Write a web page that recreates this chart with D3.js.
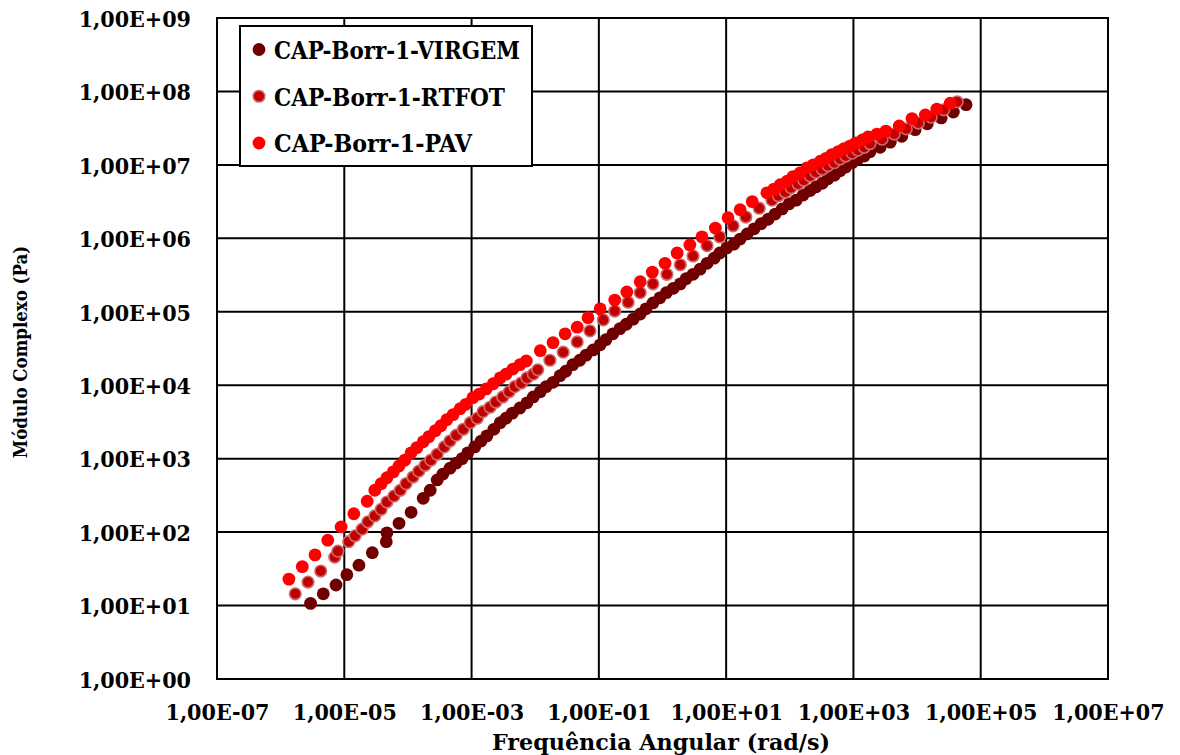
<!DOCTYPE html>
<html>
<head>
<meta charset="utf-8">
<script src="https://cdn.jsdelivr.net/npm/d3@7"></script>
<style>
  html, body { margin: 0; padding: 0; background: #ffffff; }
  svg { display: block; }
  .lbl { font-family: "DejaVu Serif Condensed", "DejaVu Serif", serif; font-weight: bold; fill: #000; }
</style>
</head>
<body>
<svg id="chart" width="1180" height="755"></svg>
<script>
// Master curves of complex modulus |G*| versus angular frequency.
// Each pair is [log10 ω (rad/s), log10 |G*| (Pa)].
const virgem = [
  [-5.53,1.03],[-5.33,1.16],[-5.13,1.28],[-4.96,1.42],[-4.77,1.55],[-4.56,1.72],
  [-4.34,1.87],[-4.33,1.99],[-4.14,2.12],[-3.95,2.27],[-3.76,2.46],[-3.65,2.57],
  [-3.54,2.71],[-3.45,2.79],[-3.34,2.87],[-3.24,2.94],[-3.15,3.00],[-3.06,3.08],
  [-2.95,3.16],[-2.85,3.24],[-2.76,3.31],[-2.65,3.40],[-2.55,3.49],[-2.46,3.55],
  [-2.36,3.62],[-2.24,3.69],[-2.13,3.76],[-2.03,3.84],[-1.92,3.91],[-1.83,3.98],
  [-1.72,4.04],[-1.61,4.13],[-1.52,4.19],[-1.41,4.28],[-1.30,4.34],[-1.20,4.41],
  [-1.09,4.48],[-0.98,4.55],[-0.89,4.62],[-0.78,4.70],[-0.67,4.77],[-0.57,4.83],
  [-0.46,4.90],[-0.35,4.97],[-0.26,5.04],[-0.15,5.12],[-0.04,5.19],[0.06,5.26],
  [0.17,5.32],[0.28,5.38],[0.37,5.45],[0.48,5.51],[0.59,5.58],[0.70,5.66],
  [0.81,5.73],[0.90,5.80],[1.01,5.87],[1.12,5.92],[1.22,5.99],[1.33,6.06],
  [1.44,6.13],[1.55,6.20],[1.66,6.26],[1.77,6.33],[1.88,6.40],[1.99,6.47],
  [2.10,6.52],[2.21,6.59],[2.32,6.65],[2.41,6.70],[2.51,6.75],[2.60,6.81],
  [2.70,6.86],[2.79,6.92],[2.88,6.97],[2.98,7.03],[3.07,7.08],[3.17,7.12],
  [3.26,7.18],[3.42,7.24],[3.58,7.31],[3.76,7.39],[3.97,7.48],[4.16,7.56],
  [4.38,7.64],[4.57,7.72],[4.77,7.82]
];

const rtfot = [
  [-5.77,1.16],[-5.57,1.32],[-5.37,1.47],[-5.15,1.66],[-5.10,1.74],[-4.93,1.87],
  [-4.83,1.95],[-4.72,2.04],[-4.63,2.14],[-4.52,2.22],[-4.42,2.31],[-4.33,2.41],
  [-4.22,2.49],[-4.12,2.57],[-4.03,2.66],[-3.92,2.75],[-3.83,2.83],[-3.73,2.91],
  [-3.64,2.98],[-3.54,3.06],[-3.43,3.16],[-3.34,3.24],[-3.24,3.32],[-3.13,3.40],
  [-3.02,3.49],[-2.91,3.55],[-2.82,3.64],[-2.71,3.70],[-2.62,3.77],[-2.51,3.84],
  [-2.41,3.91],[-2.32,3.98],[-2.22,4.03],[-2.13,4.10],[-2.03,4.15],[-1.96,4.21],
  [-1.77,4.34],[-1.56,4.45],[-1.34,4.59],[-1.14,4.74],[-0.93,4.89],[-0.75,5.01],
  [-0.54,5.13],[-0.35,5.26],[-0.15,5.38],[0.07,5.51],[0.28,5.64],[0.48,5.76],
  [0.70,5.90],[0.90,6.02],[1.11,6.17],[1.31,6.29],[1.52,6.41],[1.72,6.52],
  [1.82,6.58],[1.93,6.63],[2.02,6.69],[2.13,6.74],[2.22,6.79],[2.32,6.85],
  [2.41,6.90],[2.51,6.94],[2.60,6.99],[2.70,7.03],[2.79,7.08],[2.88,7.12],
  [2.98,7.16],[3.07,7.20],[3.17,7.24],[3.26,7.29],[3.45,7.35],[3.64,7.42],
  [3.83,7.49],[4.02,7.57],[4.22,7.65],[4.42,7.75],[4.63,7.86]
];

const pav = [
  [-5.87,1.36],[-5.66,1.53],[-5.46,1.69],[-5.26,1.89],[-5.05,2.07],[-4.85,2.25],
  [-4.64,2.42],[-4.52,2.57],[-4.42,2.66],[-4.33,2.74],[-4.23,2.82],[-4.14,2.90],
  [-4.05,2.98],[-3.95,3.08],[-3.86,3.15],[-3.76,3.23],[-3.67,3.30],[-3.57,3.38],
  [-3.48,3.45],[-3.39,3.53],[-3.29,3.60],[-3.18,3.68],[-3.09,3.74],[-2.98,3.83],
  [-2.88,3.88],[-2.77,3.95],[-2.66,4.02],[-2.55,4.10],[-2.46,4.15],[-2.35,4.22],
  [-2.24,4.28],[-2.14,4.33],[-1.92,4.47],[-1.72,4.58],[-1.53,4.70],[-1.34,4.79],
  [-1.17,4.92],[-0.98,5.04],[-0.75,5.16],[-0.56,5.27],[-0.35,5.41],[-0.16,5.54],
  [0.04,5.66],[0.23,5.80],[0.43,5.91],[0.62,6.02],[0.83,6.14],[1.03,6.28],
  [1.22,6.39],[1.41,6.50],[1.64,6.62],[1.75,6.67],[1.85,6.73],[1.96,6.78],
  [2.05,6.84],[2.16,6.89],[2.27,6.96],[2.37,7.00],[2.48,7.05],[2.57,7.09],
  [2.66,7.14],[2.76,7.18],[2.85,7.22],[2.95,7.26],[3.04,7.30],[3.14,7.34],
  [3.23,7.38],[3.37,7.42],[3.51,7.46],[3.72,7.53],[3.92,7.63],[4.13,7.68],
  [4.31,7.76],[4.52,7.84]
];

const seriesNames = ["CAP-Borr-1-VIRGEM", "CAP-Borr-1-RTFOT", "CAP-Borr-1-PAV"];

const xTickValues = [1e-7, 1e-5, 1e-3, 1e-1, 1e1, 1e3, 1e5, 1e7];
const xTickLabels = ["1,00E-07", "1,00E-05", "1,00E-03", "1,00E-01", "1,00E+01", "1,00E+03", "1,00E+05", "1,00E+07"];
const yTickValues = [1e0, 1e1, 1e2, 1e3, 1e4, 1e5, 1e6, 1e7, 1e8, 1e9];
const yTickLabels = ["1,00E+00", "1,00E+01", "1,00E+02", "1,00E+03", "1,00E+04", "1,00E+05", "1,00E+06", "1,00E+07", "1,00E+08", "1,00E+09"];

const xTitle = "Frequência Angular (rad/s)";
const yTitle = "Módulo Complexo (Pa)";

const plot = { left: 217, right: 1108, top: 18, bottom: 679 };

const svg = d3.select("#chart");

const x = d3.scaleLog().domain([1e-7, 1e7]).range([plot.left, plot.right]);
const y = d3.scaleLog().domain([1e0, 1e9]).range([plot.bottom, plot.top]);

// grid
const grid = svg.append("g");
grid.selectAll("line.v").data(xTickValues).join("line")
  .attr("x1", d => x(d)).attr("x2", d => x(d))
  .attr("y1", plot.top).attr("y2", plot.bottom)
  .attr("stroke", "#000").attr("stroke-width", 2);
grid.selectAll("line.h").data(yTickValues).join("line")
  .attr("x1", plot.left).attr("x2", plot.right)
  .attr("y1", d => y(d)).attr("y2", d => y(d))
  .attr("stroke", "#000").attr("stroke-width", 2);

svg.append("rect")
  .attr("x", plot.left).attr("y", plot.top)
  .attr("width", plot.right - plot.left).attr("height", plot.bottom - plot.top)
  .attr("fill", "none").attr("stroke", "#000").attr("stroke-width", 2);

// axes (labels only, the grid draws the lines)
const xAxis = d3.axisBottom(x).tickValues(xTickValues)
  .tickFormat((d, i) => xTickLabels[i]).tickSize(0).tickPadding(0);
const gx = svg.append("g").attr("transform", `translate(0,${plot.bottom})`).call(xAxis);
gx.select(".domain").remove();
gx.selectAll("text").attr("class", "lbl").attr("font-size", 23).attr("dy", null).attr("y", 41);

const yAxis = d3.axisLeft(y).tickValues(yTickValues)
  .tickFormat((d, i) => yTickLabels[i]).tickSize(0).tickPadding(0);
const gy = svg.append("g").attr("transform", `translate(${plot.left},0)`).call(yAxis);
gy.select(".domain").remove();
gy.selectAll("text").attr("class", "lbl").attr("font-size", 23).attr("x", -26).attr("dy", "0.36em");

svg.append("text").attr("class", "lbl")
  .attr("x", 661).attr("y", 750).attr("text-anchor", "middle")
  .attr("font-size", 23).attr("textLength", 338).attr("lengthAdjust", "spacingAndGlyphs")
  .text(xTitle);

svg.append("text").attr("class", "lbl")
  .attr("transform", "translate(27,352) rotate(-90)").attr("text-anchor", "middle")
  .attr("font-size", 18.5).text(yTitle);

// markers
const styles = [
  { fill: "#700000", stroke: "none", sw: 0, r: 6.4 },
  { fill: "#c00000", stroke: "#cf6a6a", sw: 1.6, r: 5.8 },
  { fill: "#ff0000", stroke: "none", sw: 0, r: 6.4 }
];
const allSeries = [virgem, rtfot, pav];

allSeries.forEach((data, k) => {
  const st = styles[k];
  svg.append("g").selectAll("circle").data(data).join("circle")
    .attr("cx", d => x(Math.pow(10, d[0])))
    .attr("cy", d => y(Math.pow(10, d[1])))
    .attr("r", st.r)
    .attr("fill", st.fill)
    .attr("stroke", st.stroke)
    .attr("stroke-width", st.sw);
});

// legend
const legendWidths = [246, 231, 198];
const lg = svg.append("g");
lg.append("rect").attr("x", 240).attr("y", 26).attr("width", 292).attr("height", 140)
  .attr("fill", "#fff").attr("stroke", "#000").attr("stroke-width", 2);
const ly = d3.scalePoint().domain(seriesNames).range([49.5, 143]);
seriesNames.forEach((name, k) => {
  const st = styles[k];
  lg.append("circle").attr("cx", 259).attr("cy", ly(name)).attr("r", st.r)
    .attr("fill", st.fill).attr("stroke", st.stroke).attr("stroke-width", st.sw);
  lg.append("text").attr("class", "lbl").attr("x", 274).attr("y", ly(name)).attr("dy", "0.37em")
    .attr("font-size", 25).attr("textLength", legendWidths[k]).attr("lengthAdjust", "spacingAndGlyphs")
    .text(name);
});
</script>
</body>
</html>
